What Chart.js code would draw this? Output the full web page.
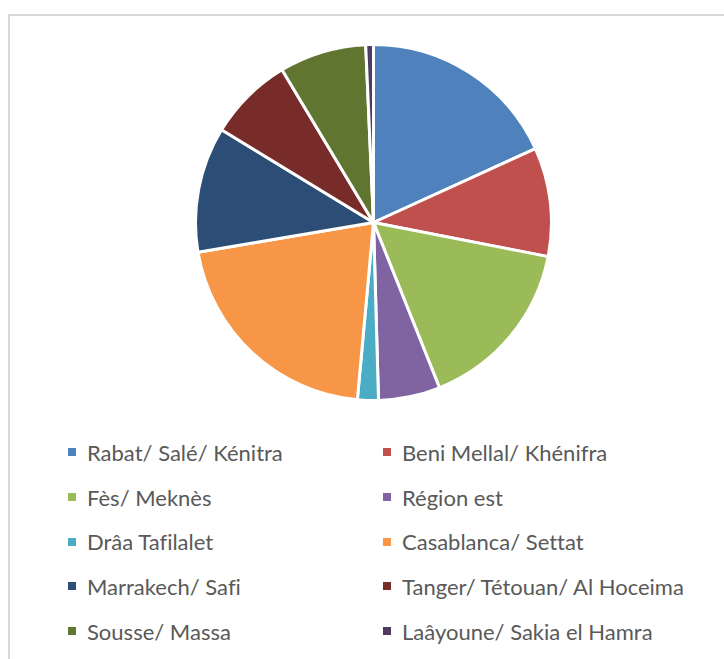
<!DOCTYPE html>
<html>
<head>
<meta charset="utf-8">
<script src="https://cdn.jsdelivr.net/npm/chart.js@4"></script>
<style>
  html,body{margin:0;padding:0;background:#fff;width:724px;height:659px;overflow:hidden;}
  .frame{position:absolute;left:8px;top:14px;width:740px;height:700px;border-left:2px solid #d9d9d9;border-top:2px solid #d9d9d9;}
  .pie{position:absolute;left:194px;top:43px;width:359px;height:359px;}
  #legend{position:absolute;left:68px;top:430px;display:grid;grid-template-columns:315px 315px;grid-auto-rows:44.7px;
    font-family:Lato,sans-serif;font-size:22px;color:#595959;font-variant-ligatures:none;}
  #legend .it{display:flex;align-items:center;white-space:nowrap;}
  #legend .sw{width:8px;height:8px;margin-right:11px;flex:none;}
</style>
</head>
<body>
<div class="frame"></div>
<div class="pie"><canvas id="c" width="359" height="359"></canvas></div>
<div id="legend"></div>
<script>
  const labels = ['Rabat/ Salé/ Kénitra','Beni Mellal/ Khénifra','Fès/ Meknès','Région est','Drâa Tafilalet',
                  'Casablanca/ Settat','Marrakech/ Safi','Tanger/ Tétouan/ Al Hoceima','Sousse/ Massa','Laâyoune/ Sakia el Hamra'];
  const values = [18.2, 9.9, 15.9, 5.6, 1.9, 20.9, 11.4, 7.7, 7.9, 0.7];
  const colors = ['#4F81BD','#C0504D','#9BBB59','#8064A2','#4BACC6','#F79646','#2C4D75','#772C2A','#5F7530','#4D3B62'];

  new Chart(document.getElementById('c'), {
    type:'pie',
    data:{labels, datasets:[{data:values, backgroundColor:colors, borderColor:'#fff', borderWidth:3}]},
    options:{
      responsive:false, animation:false,
      layout:{padding:0},
      plugins:{legend:{display:false}, tooltip:{enabled:false}}
    }
  });

  // legend, two columns like the original
  const lg = document.getElementById('legend');
  labels.forEach((l,i)=>{
    const d = document.createElement('div'); d.className='it';
    d.innerHTML = `<span class="sw" style="background:${colors[i]}"></span><span>${l}</span>`;
    lg.appendChild(d);
  });
</script>
</body>
</html>
